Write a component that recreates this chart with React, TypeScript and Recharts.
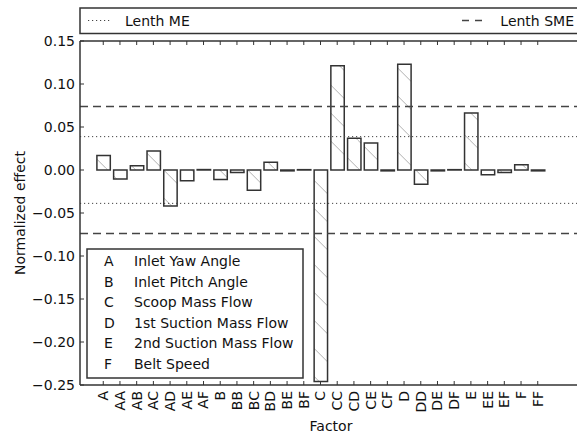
import React from 'react';
import { BarChart, Bar, XAxis, YAxis, ReferenceLine } from 'recharts';

const factors = ['A', 'AA', 'AB', 'AC', 'AD', 'AE', 'AF', 'B', 'BB', 'BC', 'BD', 'BE', 'BF', 'C', 'CC', 'CD', 'CE', 'CF', 'D', 'DD', 'DE', 'DF', 'E', 'EE', 'EF', 'F', 'FF'];
const effects = [0.017, -0.0105, 0.005, 0.022, -0.042, -0.0125, 0.0005, -0.011, -0.003, -0.0235, 0.009, -0.001, 0.0004, -0.246, 0.1213, 0.0368, 0.0314, -0.001, 0.1229, -0.0167, -0.001, 0.0004, 0.0663, -0.0055, -0.003, 0.006, -0.001];
const yTicks = [0.15, 0.1, 0.05, 0, -0.05, -0.1, -0.15, -0.2, -0.25];
const lenthME = 0.0388;
const lenthSME = 0.0738;
const legendCodes = ['A', 'B', 'C', 'D', 'E', 'F'];
const legendNames = ['Inlet Yaw Angle', 'Inlet Pitch Angle', 'Scoop Mass Flow', '1st Suction Mass Flow', '2nd Suction Mass Flow', 'Belt Speed'];
const seriesLabels = ['Lenth ME', 'Lenth SME'];
const xLabel = 'Factor';
const yLabel = 'Normalized effect';

const data = factors.map((f, i) => ({ factor: f, effect: effects[i] }));

const FONT = '"DejaVu Sans", sans-serif';
const FS = 14;
const CW = 600;
const CH = 434;
const PL = 80;
const PR = 582;
const PT = 41;
const PB = 385;
const AX = '#333';
const TXT = '#111';

const fmt = (v: number) => {
  const s = Math.abs(v).toFixed(2);
  return v < 0 ? '\u2212' + s : s;
};

const XTick = (props: any) => {
  const { x, payload } = props;
  return (
    <g>
      <line x1={x} x2={x} y1={PB} y2={PB - 4} stroke={AX} strokeWidth={1} />
      <text
        transform={`translate(${x},${PB + 6}) rotate(-90)`}
        textAnchor="end"
        dy="0.35em"
        fontFamily={FONT}
        fontSize={FS}
        fill={TXT}
      >
        {payload.value}
      </text>
    </g>
  );
};

const TopTick = (props: any) => {
  const { x } = props;
  return <line x1={x} x2={x} y1={PT} y2={PT + 4} stroke={AX} strokeWidth={1} />;
};

const YTick = (props: any) => {
  const { y, payload } = props;
  return (
    <g>
      <line x1={PL} x2={PL + 4} y1={y} y2={y} stroke={AX} strokeWidth={1} />
      <text x={PL - 5} y={y} dy="0.35em" textAnchor="end" fontFamily={FONT} fontSize={FS} fill={TXT}>
        {fmt(payload.value)}
      </text>
    </g>
  );
};

export default function App() {
  return (
    <div style={{ position: 'absolute', left: 0, top: 0, width: 577, height: 434, overflow: 'hidden', background: '#fff' }}>
      <svg width={0} height={0} style={{ position: 'absolute' }}>
        <defs>
          <pattern id="hatch" patternUnits="userSpaceOnUse" width={28} height={28}>
            <path d="M-6.3,0 L21.7,28 M21.7,0 L49.7,28 M-34.3,0 L-6.3,28" stroke="#b0b0b0" strokeWidth={1} fill="none" />
          </pattern>
        </defs>
      </svg>
      <div style={{ position: 'absolute', left: 0, top: 0 }}>
        <BarChart width={CW} height={CH} data={data} margin={{ top: 0, right: CW - PR, bottom: 0, left: 0 }}>
          <XAxis
            dataKey="factor"
            xAxisId={0}
            height={CH - PB}
            padding={{ left: 14.9, right: 35.9 }}
            axisLine={{ stroke: AX, strokeWidth: 1.5 }}
            tickLine={false}
            tickSize={0}
            tickMargin={0}
            interval={0}
            tick={<XTick />}
          />
          <XAxis
            dataKey="factor"
            xAxisId="top"
            orientation="top"
            height={PT}
            padding={{ left: 14.9, right: 35.9 }}
            axisLine={{ stroke: AX, strokeWidth: 1.5 }}
            tickLine={false}
            tickSize={0}
            interval={0}
            tick={<TopTick />}
          />
          <YAxis
            type="number"
            domain={[-0.25, 0.15]}
            ticks={yTicks}
            allowDataOverflow
            width={PL}
            axisLine={{ stroke: AX, strokeWidth: 1.5 }}
            tickLine={false}
            tick={<YTick />}
          />
          <Bar
            dataKey="effect"
            xAxisId={0}
            fill="url(#hatch)"
            stroke={AX}
            strokeWidth={1.5}
            barSize={13.4}
            isAnimationActive={false}
          />
          <ReferenceLine y={lenthSME} xAxisId={0} stroke="#444" strokeWidth={1.5} strokeDasharray="8 5" />
          <ReferenceLine y={-lenthSME} xAxisId={0} stroke="#444" strokeWidth={1.5} strokeDasharray="8 5" />
          <ReferenceLine y={lenthME} xAxisId={0} stroke="#444" strokeWidth={1} strokeDasharray="1.2 2.8" />
          <ReferenceLine y={-lenthME} xAxisId={0} stroke="#444" strokeWidth={1} strokeDasharray="1.2 2.8" />
        </BarChart>
      </div>
      <svg width={CW} height={CH} style={{ position: 'absolute', left: 0, top: 0, pointerEvents: 'none' }}>
        <rect x={PL} y={8} width={PR - PL} height={25.5} fill="#fff" stroke={AX} strokeWidth={1.5} />
        <line x1={88} x2={110} y1={20.5} y2={20.5} stroke="#444" strokeWidth={1} strokeDasharray="1.2 2.8" />
        <text x={125} y={25.5} fontFamily={FONT} fontSize={FS} fill={TXT}>{seriesLabels[0]}</text>
        <line x1={462} x2={484} y1={20.5} y2={20.5} stroke="#444" strokeWidth={1.5} strokeDasharray="7 6" />
        <text x={574} y={25.5} textAnchor="end" fontFamily={FONT} fontSize={FS} fill={TXT}>{seriesLabels[1]}</text>

        <rect x={87} y={249} width={216} height={129} fill="#fff" stroke={AX} strokeWidth={1.5} />
        {legendCodes.map((c, i) => (
          <g key={c}>
            <text x={104} y={261 + i * 20.6} dy="0.35em" fontFamily={FONT} fontSize={FS} fill={TXT}>{c}</text>
            <text x={134} y={261 + i * 20.6} dy="0.35em" fontFamily={FONT} fontSize={FS} fill={TXT}>{legendNames[i]}</text>
          </g>
        ))}

        <text transform={`translate(25,${(PT + PB) / 2}) rotate(-90)`} textAnchor="middle" fontFamily={FONT} fontSize={FS} fill={TXT}>{yLabel}</text>
        <text x={(PL + PR) / 2} y={430.5} textAnchor="middle" fontFamily={FONT} fontSize={FS} fill={TXT}>{xLabel}</text>
      </svg>
    </div>
  );
}
